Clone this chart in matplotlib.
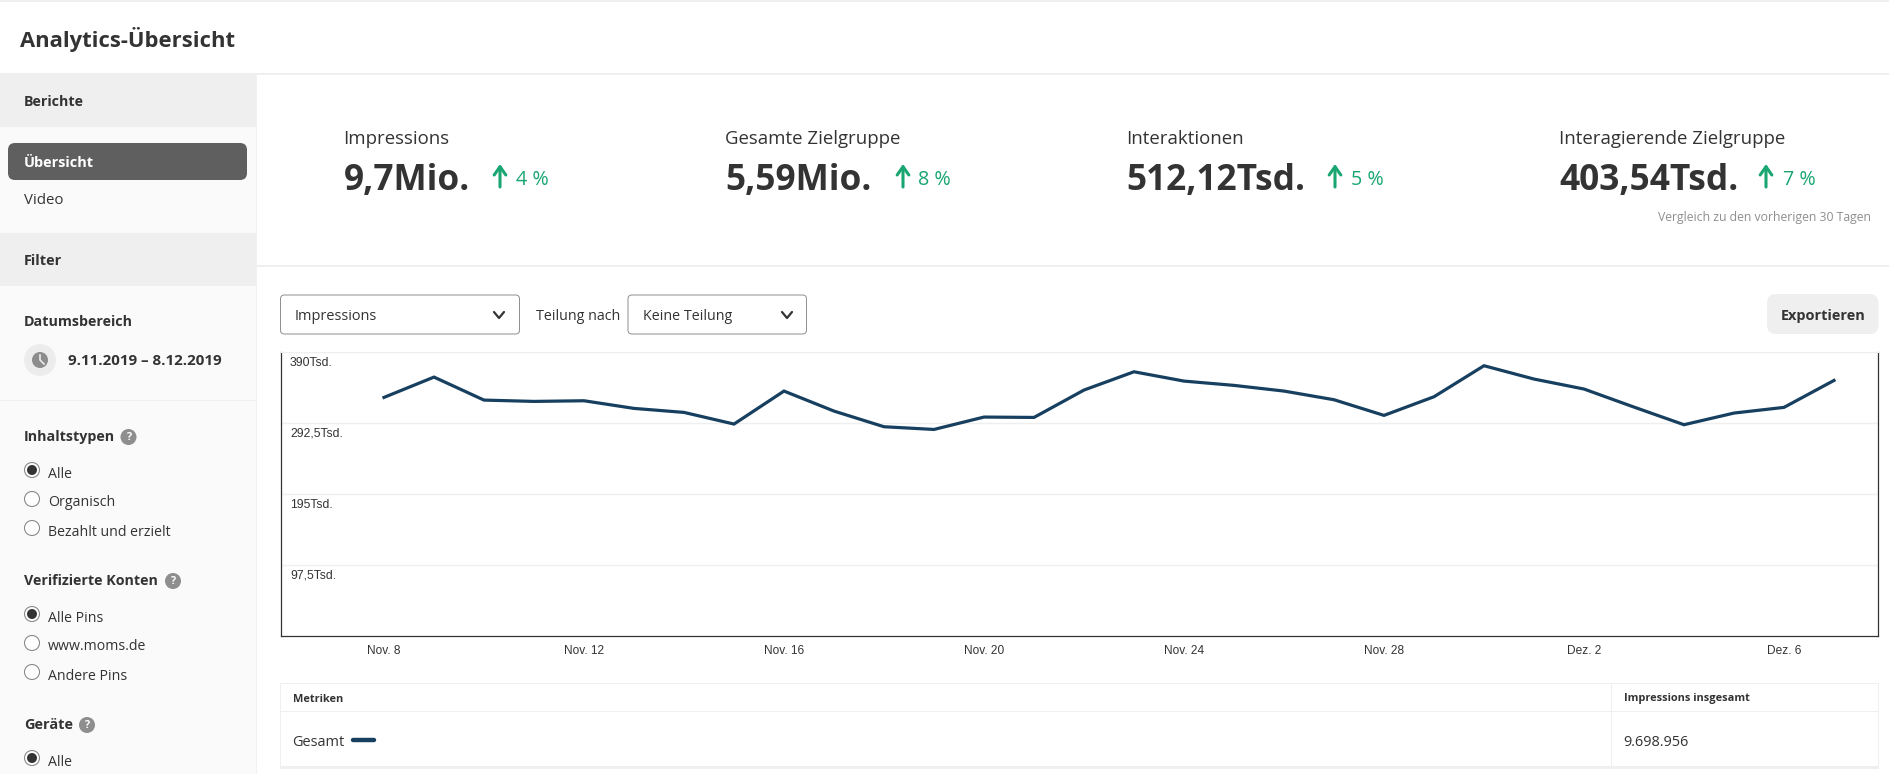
import numpy as np
import matplotlib
matplotlib.use("Agg")
import matplotlib.pyplot as plt
from matplotlib.patches import Circle, FancyBboxPatch, Rectangle
from matplotlib.transforms import ScaledTranslation

W, H = 1889, 774
DPI = 100
UI_FONT = "Open Sans"
DARK = "#333333"
GREEN = "#1aa673"
LINE = "#efefef"
NAVY = "#173f5f"

# chart data (thousands per day)
dates = ["Nov. 8", "Nov. 9", "Nov. 10", "Nov. 11", "Nov. 12", "Nov. 13", "Nov. 14", "Nov. 15",
         "Nov. 16", "Nov. 17", "Nov. 18", "Nov. 19", "Nov. 20", "Nov. 21", "Nov. 22", "Nov. 23",
         "Nov. 24", "Nov. 25", "Nov. 26", "Nov. 27", "Nov. 28", "Nov. 29", "Nov. 30", "Dez. 1",
         "Dez. 2", "Dez. 3", "Dez. 4", "Dez. 5", "Dez. 6", "Dez. 7"]
impressions = [328.2, 356.1, 324.5, 322.7, 323.6, 313.1, 307.6, 291.6, 336.9, 309.4,
               287.9, 284.2, 301.2, 300.7, 338.3, 363.4, 350.6, 344.7, 336.9, 325.0,
               303.5, 329.1, 371.7, 353.4, 339.7, 314.9, 290.7, 306.7, 314.5, 351.5]
y_ticks = [97.5, 195, 292.5, 390]
y_tick_labels = ["97,5Tsd.", "195Tsd.", "292,5Tsd.", "390Tsd."]
x_tick_labels = ["Nov. 8", "Nov. 12", "Nov. 16", "Nov. 20", "Nov. 24", "Nov. 28", "Dez. 2", "Dez. 6"]

# KPI row
kpi_names = ["Impressions", "Gesamte Zielgruppe", "Interaktionen", "Interagierende Zielgruppe"]
kpi_values = ["9,7Mio.", "5,59Mio.", "512,12Tsd.", "403,54Tsd."]
kpi_changes = ["4 %", "8 %", "5 %", "7 %"]
kpi_x = [343.5, 725, 1126.5, 1559]
kpi_arrow_x = [500, 903, 1335, 1766]
kpi_change_x = [516, 918, 1351, 1783]

plt.rcParams["font.family"] = UI_FONT

fig = plt.figure(figsize=(W / DPI, H / DPI), dpi=DPI, facecolor="white")

# overlay for everything that is page furniture, in image pixels
ui = fig.add_axes([0, 0, 1, 1])
ui.set_xlim(0, W)
ui.set_ylim(H, 0)
ui.axis("off")


def text(x, y, s, px=15, weight="normal", color=DARK, ha="left", family=UI_FONT):
    ui.text(x, y, s, fontsize=px * 72 / DPI, fontweight=weight, color=color, ha=ha, va="center", family=family)


def rect(x0, y0, x1, y1, color):
    ui.add_patch(Rectangle((x0, y0), x1 - x0, y1 - y0, facecolor=color, edgecolor="none"))


def rounded(x0, y0, x1, y1, r, face, edge="none", lw=0):
    ui.add_patch(FancyBboxPatch((x0 + r, y0 + r), x1 - x0 - 2 * r, y1 - y0 - 2 * r,
                                boxstyle=f"round,pad={r},rounding_size={r}",
                                facecolor=face, edgecolor=edge, linewidth=lw))


def chevron(x, y):
    ui.plot([x - 5, x, x + 5], [y - 3, y + 3, y - 3], color=DARK, lw=1.6, solid_capstyle="round")


def radio(y, label, checked=False):
    ui.add_patch(Circle((32, y), 7.5, facecolor="white", edgecolor="#8a8a8a", linewidth=0.8))
    if checked:
        ui.add_patch(Circle((32, y), 5, facecolor="#333333", edgecolor="none"))
    text(48, y + 4, label, px=14.1)


def help_icon(x, y):
    ui.add_patch(Circle((x, y), 8, facecolor="#8e8e8e", edgecolor="none"))
    text(x, y, "?", px=11, weight="bold", color="white", ha="center")


# page frame
rect(0, 0, W, 1.5, LINE)
rect(0, 73, W, 74.5, LINE)
text(20, 40, "Analytics-Übersicht", px=22, weight="bold")

# sidebar
rect(0, 74, 255.5, H, "#fafafa")
rect(255.5, 74, 256.5, H, "#f1f1f1")
rect(0, 74, 255.5, 127, LINE)
rect(0, 233, 255.5, 286, LINE)
rect(0, 399.5, 255.5, 400.5, LINE)
text(24, 102.5, "Berichte", px=14.3, weight="bold")
rounded(8, 143, 247, 180, 7, "#5f5f5f")
text(24, 163, "Übersicht", px=14.5, weight="bold", color="white")
text(24, 200, "Video", px=15)
text(24, 261, "Filter", px=14.5, weight="bold")
text(24, 322, "Datumsbereich", px=14.3, weight="bold")
ui.add_patch(Circle((40, 360), 16, facecolor="#ececec", edgecolor="none"))
ui.add_patch(Circle((40, 360), 8, facecolor="#8c8c8c", edgecolor="none"))
ui.plot([40, 40, 44], [355, 360, 364], color="#ececec", lw=1.2)
text(68, 361, "9.11.2019 – 8.12.2019", px=15.1, weight="bold")

text(24, 437, "Inhaltstypen", px=14.3, weight="bold")
help_icon(128.5, 437)
radio(470, "Alle", True)
radio(499, "Organisch")
radio(528, "Bezahlt und erzielt")
text(24, 581, "Verifizierte Konten", px=14.3, weight="bold")
help_icon(173, 581)
radio(614, "Alle Pins", True)
radio(643, "www.moms.de")
radio(672, "Andere Pins")
text(24, 725, "Geräte", px=14.5, weight="bold")
help_icon(87, 725)
radio(758, "Alle", True)

# KPI row
for name, value, change, x, ax_, cx in zip(kpi_names, kpi_values, kpi_changes, kpi_x, kpi_arrow_x, kpi_change_x):
    text(x, 139, name, px=18.6)
    text(x, 181, value, px=35.3, weight="bold")
    ui.annotate("", xy=(ax_, 164), xytext=(ax_, 187),
                arrowprops=dict(arrowstyle="->,head_width=0.42,head_length=0.6", color=GREEN, lw=2.2,
                                shrinkA=0, shrinkB=0))
    text(cx, 180, change, px=19.8, color=GREEN)
text(1871, 217, "Vergleich zu den vorherigen 30 Tagen", px=12.3, color="#8f8f8f", ha="right")
rect(256.5, 265, W, 266.5, LINE)

# selectors
rounded(280.5, 295, 519.5, 334, 4, "white", "#8e8e8e", 0.7)
text(295, 317, "Impressions", px=14.5)
chevron(499, 315)
text(536.5, 317, "Teilung nach", px=14.2)
rounded(628, 295, 806.5, 334, 4, "white", "#8e8e8e", 0.7)
text(643, 317, "Keine Teilung", px=14.2)
chevron(787, 315)
rounded(1767, 294, 1878.5, 334, 9, "#efefef")
text(1823, 316, "Exportieren", px=14.5, weight="bold", ha="center")

# the chart itself
left, right, top, bottom = 280.5, 1877.5, 352.4, 636.4
ax = fig.add_axes([left / W, 1 - bottom / H, (right - left) / W, (bottom - top) / H])
ax.patch.set_alpha(0)
ax.plot(range(len(dates)), impressions, color=NAVY, lw=2.3, solid_joinstyle="miter", clip_on=False)
ax.set_xlim(-(384 - left) / 50, (right - 384) / 50)
ax.set_ylim(0, 390)
ax.set_yticks(y_ticks)
ax.set_yticklabels(y_tick_labels, family="Liberation Sans", fontsize=8.8, color="#333333", ha="left", va="top")
ax.set_xticks([dates.index(d) for d in x_tick_labels])
ax.set_xticklabels(x_tick_labels, family="Liberation Sans", fontsize=8.6, color="#333333")
ax.tick_params(axis="y", length=0, pad=-9, direction="in")
ax.tick_params(axis="x", length=0, pad=6)
# labels sit a little under their grid lines
shift = ScaledTranslation(-3 / DPI, -4.2 / DPI, fig.dpi_scale_trans)
for label in ax.get_yticklabels():
    label.set_transform(label.get_transform() + shift)
ax.grid(axis="y", color=LINE, lw=1)
ax.set_axisbelow(True)
ax.spines["top"].set_color(LINE)
for side in ("left", "right", "bottom"):
    ax.spines[side].set_color("#333333")
    ax.spines[side].set_linewidth(0.9)

# metric table
rect(280, 682.5, 1879, 684, LINE)
rect(280, 710.5, 1879, 712, LINE)
rect(280, 765.5, 1879, 769, LINE)
rect(280, 683, 281, 768, LINE)
rect(1878, 683, 1879, 768, LINE)
rect(1610.5, 683, 1611.5, 768, LINE)
text(292.5, 699, "Metriken", px=11, weight="bold")
text(1623.5, 699, "Impressions insgesamt", px=11, weight="bold")
text(292.5, 742, "Gesamt", px=14.5)
ui.plot([353, 374], [739.7, 739.7], color=NAVY, lw=3.2, solid_capstyle="round")
text(1623.5, 743, "9.698.956", px=14.5)

fig.savefig("out.png", dpi=DPI)
